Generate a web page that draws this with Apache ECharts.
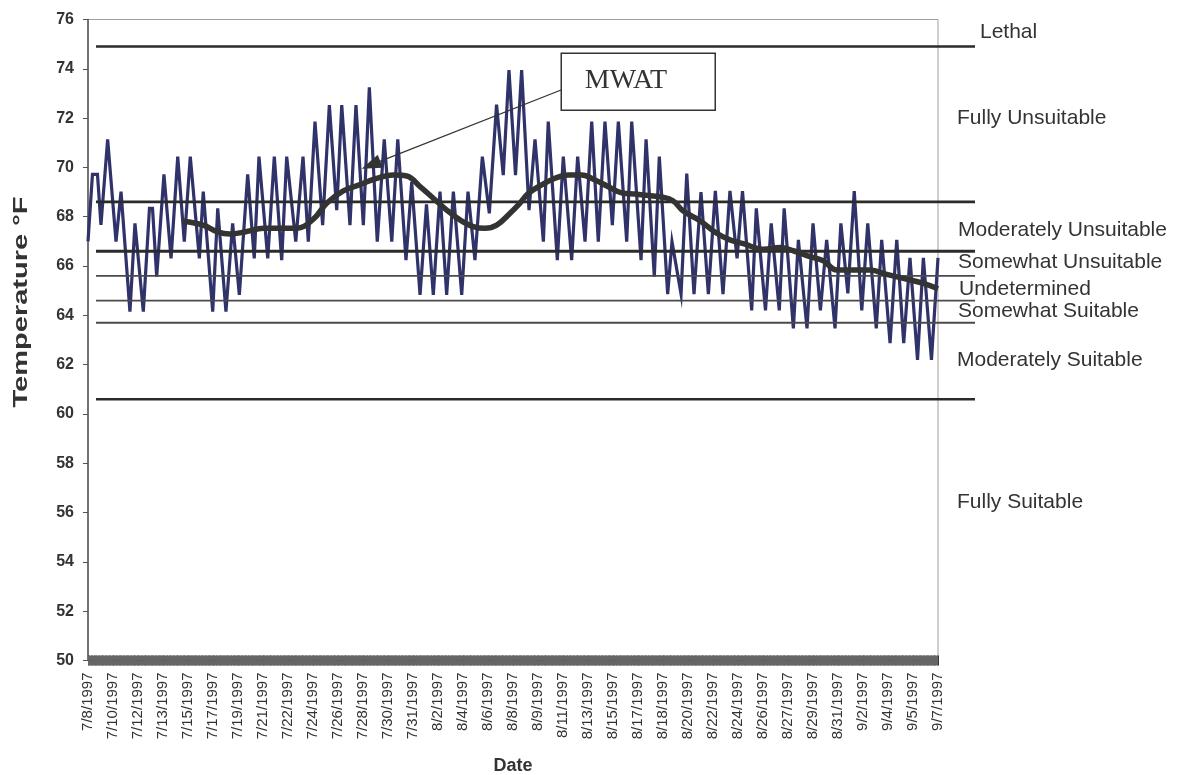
<!DOCTYPE html>
<html>
<head>
<meta charset="utf-8">
<script src="https://cdn.jsdelivr.net/npm/echarts@6/dist/echarts.min.js"></script>
<style>
html,body{margin:0;padding:0;background:#fff;}
#chart{width:1177px;height:775px;}
</style>
</head>
<body>
<div id="chart"></div>
<script>
// ---------------- DATA ----------------
const dateLabels = ['7/8/1997','7/10/1997','7/12/1997','7/13/1997','7/15/1997','7/17/1997','7/19/1997','7/21/1997','7/22/1997','7/24/1997','7/26/1997','7/28/1997','7/30/1997','7/31/1997','8/2/1997','8/4/1997','8/6/1997','8/8/1997','8/9/1997','8/11/1997','8/13/1997','8/15/1997','8/17/1997','8/18/1997','8/20/1997','8/22/1997','8/24/1997','8/26/1997','8/27/1997','8/29/1997','8/31/1997','9/2/1997','9/4/1997','9/5/1997','9/7/1997'];
const totalDays = 61; // span of the record, in days
const yTicks = [50,52,54,56,58,60,62,64,66,68,70,72,74,76];

// water temperature (days since start, °F)
const tempDays = [0.00,0.32,0.68,0.93,1.41,2.01,2.37,3.01,3.37,3.97,4.41,4.63,4.93,5.45,5.96,6.44,6.91,7.34,7.99,8.27,8.95,9.31,9.90,10.38,10.86,11.46,11.93,12.27,12.90,13.37,13.90,14.26,14.91,15.43,15.81,16.29,16.84,17.32,17.85,18.21,18.80,19.23,19.76,20.19,20.76,21.26,21.80,22.23,22.82,23.23,23.83,24.29,24.78,25.26,25.74,26.22,26.82,27.27,27.77,28.30,28.80,29.32,29.80,30.21,30.68,31.12,31.65,32.08,32.68,33.03,33.68,34.11,34.71,35.14,35.67,36.15,36.62,37.10,37.63,38.06,38.66,39.02,39.69,40.05,40.64,41.00,41.60,41.91,42.56,42.97,43.49,43.99,44.52,45.02,45.57,46.07,46.58,46.97,47.63,47.96,48.62,49.03,49.61,49.96,50.62,50.98,51.60,52.03,52.56,53.01,53.61,54.03,54.53,54.99,55.53,55.96,56.57,56.96,57.56,58.04,58.54,58.99,59.53,59.95,60.53,61.00];
const tempF = [67.0,69.72,69.72,67.67,71.14,66.99,69.02,64.15,67.73,64.15,68.34,68.34,65.57,69.72,66.31,70.44,66.99,70.44,66.31,69.02,64.15,68.34,64.15,67.73,64.83,69.72,66.31,70.44,66.31,70.44,66.24,70.44,66.99,70.44,66.99,71.86,67.66,72.53,68.27,72.53,67.66,72.53,67.66,73.25,66.99,71.14,66.99,71.14,66.24,69.4,64.83,68.5,64.83,69.02,64.83,69.02,64.83,69.02,66.24,70.44,68.14,72.55,69.69,73.95,69.69,73.95,68.27,71.14,66.99,71.86,66.24,70.44,66.24,70.44,66.99,71.86,66.99,71.86,67.66,71.86,66.99,71.86,66.24,71.14,65.57,70.44,64.86,66.99,64.86,69.75,64.86,69.0,64.86,69.05,64.86,69.05,66.31,69.04,64.2,68.34,64.2,67.73,64.2,68.34,63.47,67.06,63.47,67.73,64.2,67.06,63.47,67.73,64.89,69.04,64.2,67.73,63.47,67.06,62.87,67.06,62.87,66.33,62.19,66.33,62.19,66.33];

// MWAT (7-day moving average of daily maxima)
const mwatDays = [6.84,8.27,9.24,10.19,11.39,12.58,13.78,14.98,16.17,17.13,18.32,19.52,20.72,21.91,22.87,23.83,24.78,25.74,26.70,27.65,28.49,29.33,30.29,31.00,31.60,32.56,33.52,34.47,35.43,36.39,37.34,38.30,39.25,40.21,41.17,41.98,42.70,43.92,45.12,46.07,47.03,48.46,49.66,50.62,51.82,52.77,53.73,54.92,56.12,57.32,58.51,59.95,61.00];
const mwatF = [67.82,67.66,67.40,67.30,67.40,67.53,67.53,67.53,67.90,68.55,69.05,69.30,69.56,69.69,69.65,69.22,68.75,68.27,67.87,67.60,67.53,67.66,68.14,68.55,68.95,69.29,69.56,69.69,69.69,69.49,69.22,68.97,68.92,68.86,68.80,68.65,68.24,67.84,67.33,67.06,66.91,66.68,66.75,66.62,66.38,66.21,65.84,65.84,65.84,65.66,65.50,65.30,65.08];

// suitability class boundaries (°F)
const thresholds = [74.9, 68.6, 66.6, 65.6, 64.6, 63.7, 60.6];
const zoneNames = ['Lethal','Fully Unsuitable','Moderately Unsuitable','Somewhat Unsuitable','Undetermined','Somewhat Suitable','Moderately Suitable','Fully Suitable'];

// ---------------- LAYOUT / STYLE ----------------
const thresholdWidths = [2.5, 2.8, 2.8, 1.8, 1.8, 1.8, 2.5];
const thresholdColors = ['#2b2b2b','#2b2b2b','#2b2b2b','#4a4a4a','#4a4a4a','#4a4a4a','#2b2b2b'];
const zoneLabelX = [980, 957, 958, 958, 959, 958, 957, 957];
const zoneLabelY = [32, 118, 230, 262, 289, 311, 360, 502];
const FONT = 'Liberation Sans, Arial, sans-serif';

const xInterval = totalDays / (dateLabels.length - 1);
const chart = echarts.init(document.getElementById('chart'), null, {renderer: 'canvas'});

const tempData = tempDays.map((d, i) => [d, tempF[i]]);
const mwatData = mwatDays.map((d, i) => [d, mwatF[i]]);

const thresholdSeries = thresholds.map((v, i) => ({
  type: 'line', xAxisIndex: 2, yAxisIndex: 1, silent: true, symbol: 'none',
  data: [[0, v], [1, v]], clip: false, z: 3,
  lineStyle: {color: thresholdColors[i], width: thresholdWidths[i]}
}));

const baseX = {
  type: 'value', gridIndex: 0, min: 0, max: totalDays, interval: xInterval,
  splitLine: {show: false}
};

const option = {
  animation: false,
  backgroundColor: '#fff',
  grid: [
    {left: 88, top: 19.5, width: 850, height: 641, outerBoundsMode: 'none', containLabel: false, show: true, borderColor: '#a79e9b', borderWidth: 1, backgroundColor: 'transparent'},
    {left: 96, top: 19.5, width: 879, height: 641, outerBoundsMode: 'none', containLabel: false, show: false}
  ],
  xAxis: [
    Object.assign({}, baseX, {
      position: 'bottom',
      name: 'Date', nameLocation: 'middle', nameGap: 97,
      nameTextStyle: {fontFamily: FONT, fontWeight: 'bold', fontSize: 18, color: '#333'},
      axisLine: {show: true, lineStyle: {color: '#555', width: 1}},
      axisTick: {show: true, inside: false, length: 5, lineStyle: {color: '#333', width: 1}},
      minorTick: {show: true, splitNumber: 43, length: 5, lineStyle: {color: '#666', width: 1}},
      axisLabel: {
        rotate: 90, margin: 12, fontFamily: FONT, fontSize: 15, color: '#333',
        formatter: v => dateLabels[Math.round(v / xInterval)] || ''
      }
    }),
    Object.assign({}, baseX, {
      position: 'bottom',
      axisLine: {show: false},
      axisTick: {show: true, inside: true, length: 5, lineStyle: {color: '#333', width: 1}},
      minorTick: {show: true, splitNumber: 43, length: 5, lineStyle: {color: '#666', width: 1}},
      axisLabel: {show: false}
    }),
    {type: 'value', gridIndex: 1, min: 0, max: 1, show: false}
  ],
  yAxis: [
    {
      type: 'value', gridIndex: 0, min: yTicks[0], max: yTicks[yTicks.length - 1], interval: yTicks[1] - yTicks[0],
      axisLine: {show: true, lineStyle: {color: '#555', width: 1.5}},
      axisTick: {show: true, inside: false, length: 5, lineStyle: {color: '#555'}},
      axisLabel: {fontFamily: FONT, fontWeight: 'bold', fontSize: 16, color: '#333', margin: 14},
      splitLine: {show: false}
    },
    {type: 'value', gridIndex: 1, min: yTicks[0], max: yTicks[yTicks.length - 1], show: false}
  ],
  series: [
    {
      name: 'Temperature', type: 'line', xAxisIndex: 0, yAxisIndex: 0, data: tempData,
      symbol: 'none', z: 2, lineStyle: {color: '#30326a', width: 3.2, join: 'miter'}
    }
  ].concat(thresholdSeries).concat([
    {
      name: 'MWAT', type: 'line', xAxisIndex: 0, yAxisIndex: 0, data: mwatData,
      symbol: 'none', smooth: 0.4, z: 5, lineStyle: {color: '#333333', width: 5.5},
      markLine: {
        silent: true, symbol: ['none', 'triangle'], symbolSize: [14, 20],
        label: {show: false},
        lineStyle: {color: '#333', width: 1.3, type: 'solid'},
        data: [[{coord: [33.95, 73.14]}, {coord: [20.31, 70.10]}]]
      }
    }
  ]),
  graphic: [
    {type: 'text', x: 21, y: 302, rotation: Math.PI / 2, scaleX: 1.45,
     style: {text: 'Temperature °F', font: 'bold 20px ' + FONT, fill: '#333', align: 'center', verticalAlign: 'middle'}},
    {type: 'rect', left: 560.5, top: 52.5, shape: {width: 154, height: 57}, style: {fill: '#fff', stroke: '#333', lineWidth: 1.5}, z: 100},
    {type: 'text', x: 626, y: 81, style: {text: 'MWAT', font: '28px "Liberation Serif", "Times New Roman", serif', fill: '#333', align: 'center', verticalAlign: 'middle'}, z: 101}
  ].concat(zoneNames.map((t, i) => ({
    type: 'text', x: zoneLabelX[i], y: zoneLabelY[i],
    style: {text: t, font: '21px ' + FONT, fill: '#333', align: 'left', verticalAlign: 'middle'}
  })))
};
chart.setOption(option);
</script>
</body>
</html>
